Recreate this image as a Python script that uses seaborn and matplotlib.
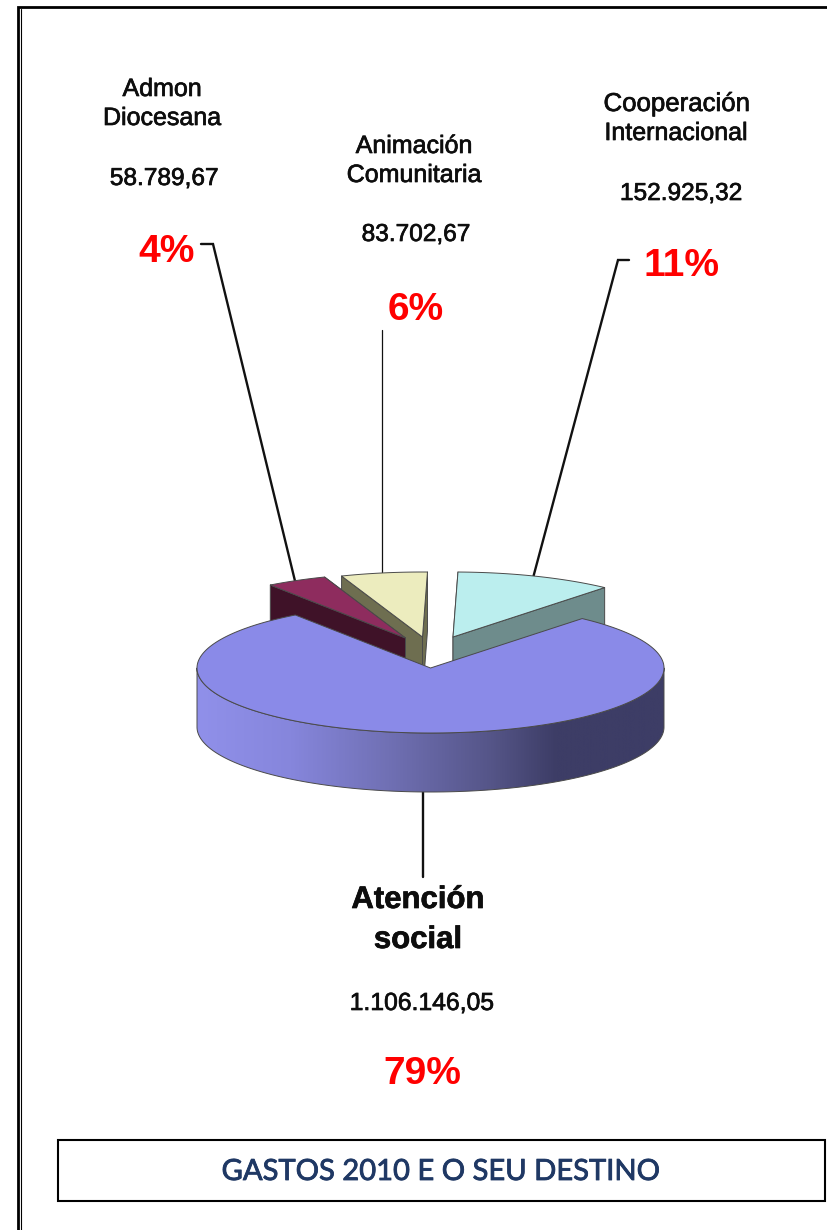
import numpy as np
import matplotlib
matplotlib.use("Agg")
import matplotlib.pyplot as plt
import matplotlib.patheffects as pe
from matplotlib.colors import LinearSegmentedColormap
from matplotlib.patches import Polygon, Rectangle
import seaborn as sns

# ---- data ----
categories = ["Atención social", "Cooperación Internacional", "Animación Comunitaria", "Admon Diocesana"]
values = [1106146.05, 152925.32, 83702.67, 58789.67]
value_labels = ["1.106.146,05", "152.925,32", "83.702,67", "58.789,67"]
percent_labels = ["79%", "11%", "6%", "4%"]
title = "GASTOS 2010 E O SEU DESTINO"

# ---- styles / layout ----
top_colors = sns.color_palette(["#8A8AE8", "#BBEEEE", "#ECECBE", "#8E2C5E"])
side_colors = sns.color_palette(["#6F6FB8", "#6E8C8C", "#6E6E50", "#3F1228"])
grad_stops = [(0.0, "#9090EA"), (0.2, "#8686DC"), (0.41, "#7070B4"),
              (0.63, "#555588"), (0.77, "#3D3D66"), (1.0, "#3D3D66")]
START = 49.5
RX, RY, DEPTH = 233.5, 65.0, 59.0
CX, CY = 430.5, 668.0
OFFSETS = [(0, 0), (22.5, -31), (-8, -31), (-25, -30)]

sns.set_theme(style="white")
plt.rcParams["font.family"] = ["Liberation Sans", "DejaVu Sans"]

fig = plt.figure(figsize=(8.27, 12.30), dpi=100, facecolor="white")
ax = fig.add_axes([0, 0, 1, 1])
ax.set_axis_off()

fractions = np.array(values) / np.sum(values)
sweeps = fractions * 360.0
bounds = [(START - sweeps[0], START)]
a = START
for s in sweeps[1:]:
    bounds.append((a, a + s))
    a += s


def arc(cx, cy, a0, a1, n=200):
    t = np.radians(np.linspace(a0, a1, n))
    return np.column_stack([cx + RX * np.cos(t), cy - RY * np.sin(t)])


EDGE = dict(edgecolor="#4a4a4a", linewidth=0.7, joinstyle="round")


def cut_face(cx, cy, ang, color, z):
    tip = arc(cx, cy, ang, ang, 1)[0]
    pts = [(cx, cy), tip, (tip[0], tip[1] + DEPTH), (cx, cy + DEPTH)]
    ax.add_patch(Polygon(pts, closed=True, facecolor=color, zorder=z, **EDGE))


z = 2
for i in (1, 2, 3):
    cx, cy = CX + OFFSETS[i][0], CY + OFFSETS[i][1]
    a0, a1 = bounds[i]
    first, second = sorted((a0, a1), key=lambda v: abs(v - 90))
    cut_face(cx, cy, first, side_colors[i], z)
    cut_face(cx, cy, second, side_colors[i], z + 1)
    pts = np.vstack([[(cx, cy)], arc(cx, cy, a0, a1)])
    ax.add_patch(Polygon(pts, closed=True, facecolor=top_colors[i], zorder=z + 2, **EDGE))
    z += 3

front_top = arc(CX, CY, 180, 360)
front_bottom = arc(CX, CY + DEPTH, 360, 180)
rim = Polygon(np.vstack([front_top, front_bottom]), closed=True, facecolor="none",
              zorder=z + 1, **EDGE)
ax.add_patch(rim)
cmap = LinearSegmentedColormap.from_list("rim", grad_stops)
im = ax.imshow(np.linspace(0, 1, 512)[None, :], cmap=cmap, aspect="auto",
               extent=(CX - RX, CX + RX, CY + RY + DEPTH, CY - RY), zorder=z)
im.set_clip_path(rim)
a0, a1 = bounds[0]
pts = np.vstack([[(CX, CY)], arc(CX, CY, a0, a1, 400)])
ax.add_patch(Polygon(pts, closed=True, facecolor=top_colors[0], zorder=z + 2, **EDGE))

# leader lines
LW = dict(color="#111111", solid_joinstyle="miter", zorder=1)
ax.plot([201, 213, 295], [244, 244, 581], lw=1.7, **LW)
ax.plot([382, 382], [330, 573], lw=0.9, **LW)
ax.plot([629, 618, 533], [260, 260, 578], lw=1.7, **LW)
ax.plot([423, 423], [792, 877], lw=1.7, **LW)

# labels
THICK = [pe.withStroke(linewidth=0.5, foreground="#0d0d0d")]
BLK = dict(ha="center", va="center", color="#0d0d0d", path_effects=THICK)
RED = dict(ha="center", va="center", color="#FF0000", fontweight="bold", fontsize=28)
ax.text(162, 89, "Admon", fontsize=18, **BLK)
ax.text(162, 118, "Diocesana", fontsize=18, **BLK)
ax.text(164, 179, value_labels[3], fontsize=17.6, **BLK)
ax.text(167, 252, percent_labels[3], **RED)

ax.text(414, 146, "Animación", fontsize=18, **BLK)
ax.text(414, 175, "Comunitaria", fontsize=18, **BLK)
ax.text(416, 235, value_labels[2], fontsize=17.6, **BLK)
ax.text(416, 310, percent_labels[2], **RED)

ax.text(677, 104, "Cooperación", fontsize=18.6, **BLK)
ax.text(676, 133, "Internacional", fontsize=18, **BLK)
ax.text(681, 194, value_labels[1], fontsize=17.6, **BLK)
ax.text(681, 266, percent_labels[1], **RED)

ax.text(418, 900, "Atención", fontsize=22.4, fontweight="bold", **BLK)
ax.text(418, 940, "social", fontsize=22.4, fontweight="bold", **BLK)
ax.text(422, 1003, value_labels[0], fontsize=17.8, **BLK)
ax.text(422, 1074, percent_labels[0], **RED)

# page frame
ax.plot([17.5, 17.5, 827], [1230, 6.5, 6.5], color="black", lw=2.0, zorder=5, solid_joinstyle="miter")
ax.plot([20.5, 20.5], [9, 1230], color="black", lw=0.8, zorder=5)

# title box
ax.add_patch(Rectangle((57.5, 1139.5), 767, 61, facecolor="white", edgecolor="black", lw=1.5, zorder=5))
ax.text(440.5, 1172, title, ha="center", va="center", color="#1F3864", fontsize=21,
        family=["Lato", "DejaVu Sans"], zorder=6,
        path_effects=[pe.withStroke(linewidth=0.6, foreground="#1F3864")])

ax.set_xlim(0, 827)
ax.set_ylim(1230, 0)
fig.savefig("out.png", dpi=100, facecolor="white")
